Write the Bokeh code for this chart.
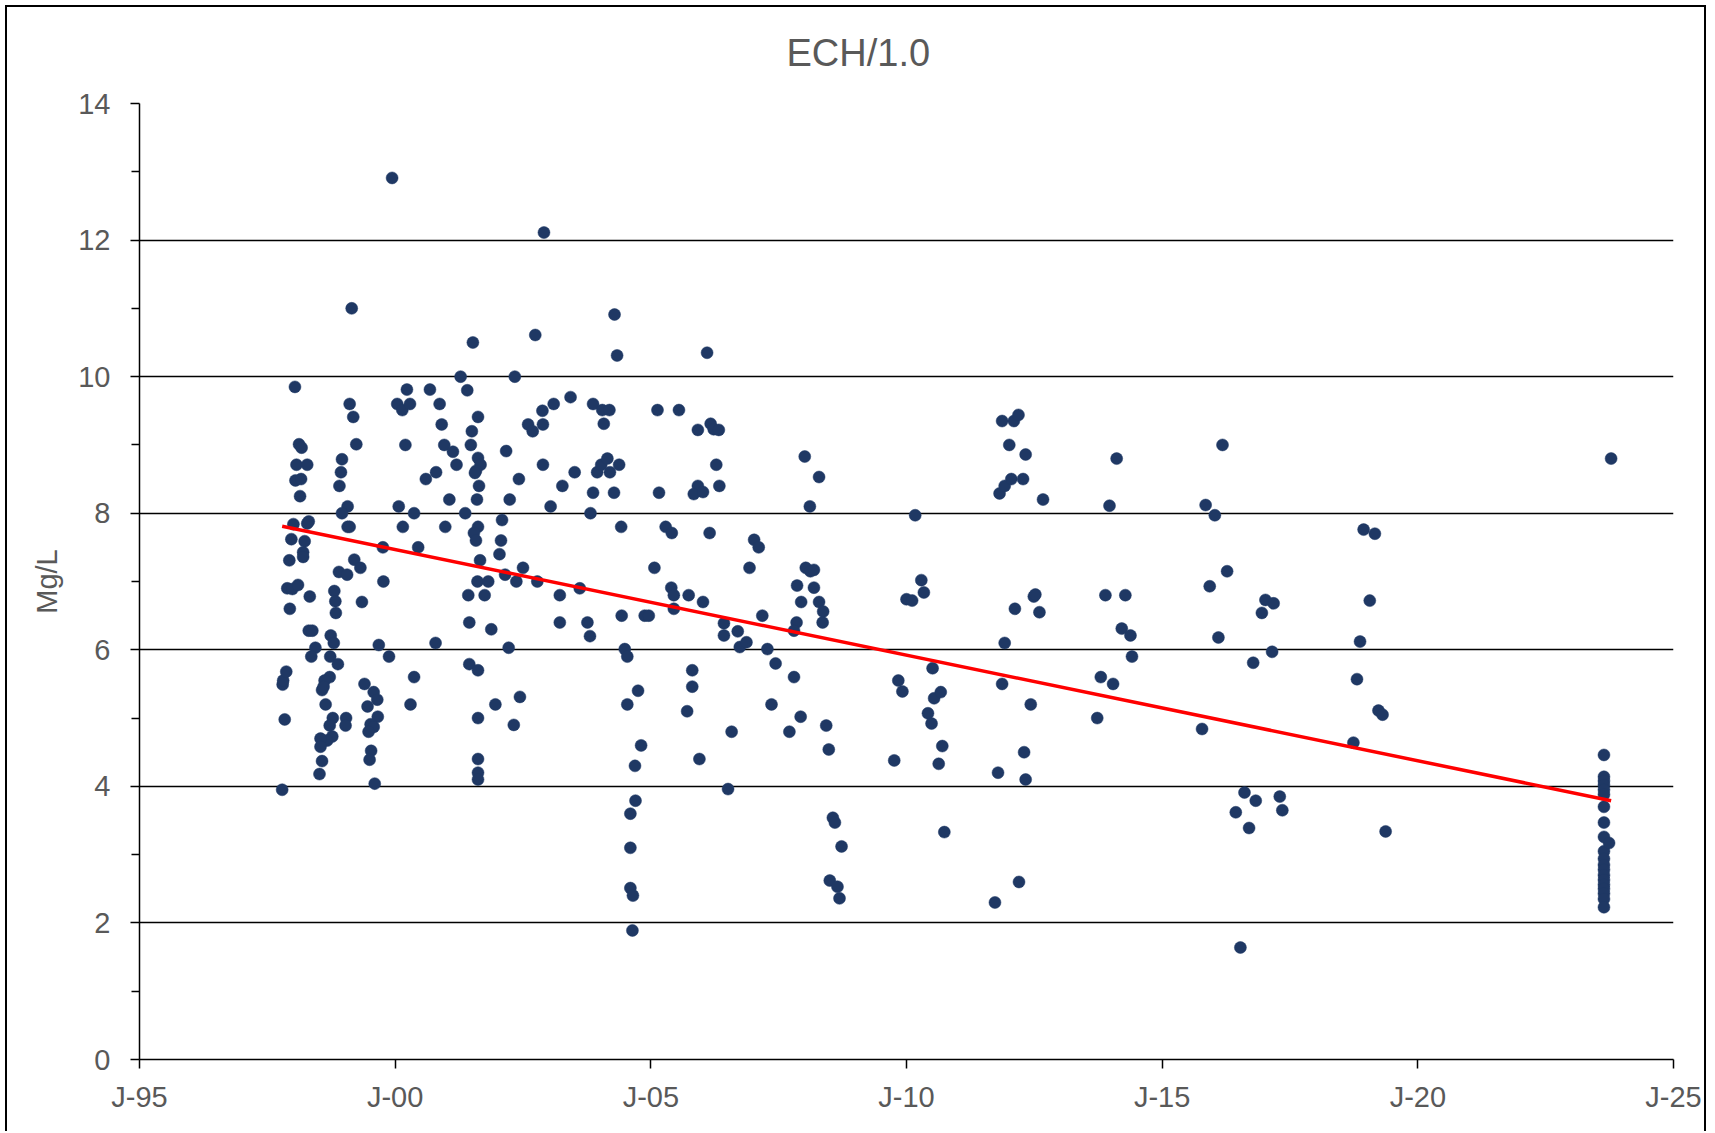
from bokeh.plotting import figure
from bokeh.models import FixedTicker, ColumnDataSource, Title
from bokeh.embed import file_html
from bokeh.resources import INLINE

# ---- data ----
sample_year = [
    1997.79, 1997.84, 1997.80, 1997.81, 1997.87, 1997.94, 1997.89, 1997.99, 1998.10, 1997.93,
    1997.97, 1998.01, 1998.04, 1998.12, 1998.17, 1998.07, 1998.28, 1998.05, 1998.16, 1998.14,
    1998.28, 1998.31, 1998.23, 1998.20, 1998.20, 1998.33, 1998.31, 1998.38, 1998.44, 1998.36,
    1998.73, 1998.88, 1998.72, 1998.62, 1998.57, 1998.60, 1998.64, 1998.78, 1998.72, 1998.77,
    1998.67, 1998.54, 1998.54, 1998.57, 1998.52, 1998.74, 1998.80, 1998.81, 1998.83, 1998.84,
    1998.90, 1998.96, 1998.94, 1998.91, 1999.07, 1998.96, 1999.06, 1999.07, 1999.11, 1999.04,
    1999.03, 1999.11, 1999.18, 1999.24, 1999.15, 1999.20, 1999.32, 1999.35, 1999.40, 1999.58,
    1999.65, 1999.46, 1999.66, 1999.52, 1999.58, 1999.48, 1999.53, 1999.50, 1999.60, 1999.68,
    1999.76, 1999.77, 1999.88, 1999.94, 2000.04, 2000.14, 2000.29, 2000.23, 2000.20, 2000.07,
    2000.37, 2000.15, 2000.45, 2000.37, 2000.30, 2000.68, 2000.87, 2000.91, 2000.96, 2001.13,
    2001.20, 2000.60, 2000.80, 2001.06, 2000.98, 2000.79, 2001.52, 2001.28, 2001.41, 2001.62,
    2001.50, 2001.48, 2001.62, 2001.67, 2001.58, 2001.56, 2001.64, 2001.60, 2001.37, 2001.62,
    2001.54, 2001.58, 2001.66, 2001.61, 2001.82, 2001.43, 2001.75, 2001.45, 2001.45, 2001.62,
    2001.62, 2001.62, 2001.62, 2001.62, 2001.88, 2001.96, 2002.09, 2002.07, 2002.04, 2002.17,
    2002.42, 2002.24, 2002.34, 2002.74, 2002.60, 2002.69, 2002.88, 2002.89, 2002.89, 2002.50,
    2002.15, 2002.37, 2002.78, 2002.22, 2002.44, 2002.32, 2002.91, 2003.04, 2003.10, 2003.27,
    2003.22, 2003.22, 2003.43, 2003.51, 2003.61, 2003.76, 2003.81, 2003.82, 2003.87, 2003.87,
    2003.95, 2004.03, 2004.15, 2004.20, 2004.38, 2004.28, 2004.05, 2004.19, 2004.08, 2004.29,
    2004.34, 2004.42, 2004.43, 2004.49, 2004.54, 2004.75, 2004.54, 2004.81, 2004.69, 2004.70,
    2004.60, 2004.60, 2004.60, 2004.65, 2004.64, 2004.88, 2004.96, 2005.07, 2005.13, 2005.16,
    2005.29, 2005.41, 2005.40, 2005.45, 2005.45, 2005.55, 2005.74, 2005.81, 2005.81, 2005.71,
    2005.92, 2005.92, 2005.84, 2006.02, 2005.95, 2006.02, 2006.10, 2006.15, 2006.17, 2006.23,
    2006.33, 2006.28, 2006.34, 2006.43, 2006.43, 2006.70, 2006.51, 2006.58, 2006.74, 2006.87,
    2006.93, 2007.02, 2007.11, 2007.18, 2007.28, 2007.36, 2007.44, 2007.71, 2007.80, 2007.85,
    2007.80, 2007.86, 2007.93, 2007.94, 2008.01, 2008.03, 2008.12, 2008.19, 2008.19, 2008.11,
    2008.29, 2008.29, 2008.37, 2008.36, 2008.43, 2008.48, 2008.56, 2008.60, 2008.73, 2008.50,
    2008.65, 2008.69, 2009.76, 2009.84, 2009.92, 2010.00, 2010.11, 2010.17, 2010.29, 2010.34,
    2010.42, 2010.49, 2010.51, 2010.54, 2010.67, 2010.63, 2010.70, 2010.74, 2011.73, 2011.79,
    2011.82, 2011.87, 2011.87, 2011.92, 2011.92, 2012.01, 2012.05, 2012.10, 2012.12, 2012.19,
    2012.20, 2012.28, 2012.30, 2012.33, 2012.33, 2012.43, 2012.49, 2012.52, 2012.60, 2012.67,
    2013.73, 2013.80, 2013.89, 2013.97, 2014.04, 2014.11, 2014.21, 2014.28, 2014.38, 2014.41,
    2015.78, 2015.85, 2015.93, 2016.03, 2016.10, 2016.18, 2016.27, 2016.44, 2016.53, 2016.61,
    2016.70, 2016.78, 2016.83, 2016.95, 2017.02, 2017.15, 2017.18, 2017.30, 2017.35, 2018.74,
    2018.81, 2018.87, 2018.94, 2019.06, 2019.16, 2019.23, 2019.31, 2019.37,
    2023.64, 2023.64, 2023.64, 2023.64, 2023.64, 2023.64, 2023.64, 2023.64, 2023.64, 2023.64,
    2023.64, 2023.64, 2023.64, 2023.64, 2023.64, 2023.64, 2023.64, 2023.64, 2023.64, 2023.64,
    2023.74, 2023.78,
]
mg_per_l = [
    3.95, 4.98, 5.49, 5.55, 5.68, 6.60, 6.90, 6.89, 6.95, 7.31,
    7.62, 7.84, 9.85, 9.01, 8.96, 8.71, 8.71, 8.48, 8.50, 8.25,
    7.85, 7.88, 7.59, 7.43, 7.36, 6.78, 6.28, 6.28, 6.03, 5.90,
    5.90, 5.79, 5.60, 5.55, 5.41, 5.46, 5.20, 5.00, 4.89, 4.73,
    4.67, 4.70, 4.58, 4.37, 4.18, 6.21, 6.10, 6.86, 6.71, 6.54,
    7.14, 8.79, 8.60, 8.40, 8.10, 8.00, 7.10, 7.80, 7.80, 5.00,
    4.89, 9.60, 9.41, 9.01, 11.00, 7.32, 7.20, 6.70, 5.50, 5.38,
    5.27, 5.17, 5.02, 4.91, 4.87, 4.80, 4.52, 4.39, 4.04, 6.07,
    7.50, 7.00, 5.90, 12.91, 9.60, 9.51, 9.60, 9.81, 9.00, 8.10,
    8.00, 7.80, 7.50, 5.60, 5.20, 9.81, 9.60, 9.30, 9.00, 8.90,
    8.71, 8.50, 8.60, 8.20, 7.80, 6.10, 10.50, 10.00, 9.80, 9.41,
    9.20, 9.00, 8.81, 8.71, 8.62, 8.59, 8.40, 8.20, 8.00, 7.80,
    7.71, 7.60, 7.31, 7.00, 7.00, 6.80, 6.80, 6.40, 5.79, 5.70,
    5.00, 4.40, 4.20, 4.10, 6.30, 5.20, 7.90, 7.60, 7.40, 8.91,
    8.50, 8.20, 10.00, 10.61, 9.30, 9.20, 9.50, 9.30, 8.71, 7.20,
    7.10, 7.00, 7.00, 6.03, 5.31, 4.90, 12.11, 8.10, 9.60, 8.40,
    6.80, 6.40, 9.70, 8.60, 6.90, 6.40, 6.20, 8.00, 9.60, 8.30,
    8.60, 8.71, 8.80, 8.60, 8.71, 8.30, 9.51, 9.51, 9.31, 10.91,
    10.31, 7.80, 6.50, 6.01, 5.90, 5.40, 5.20, 4.60, 4.30, 3.79,
    3.60, 3.10, 2.51, 2.40, 1.89, 6.50, 6.50, 7.20, 9.51, 8.30,
    7.80, 7.71, 6.91, 6.80, 6.60, 9.51, 6.80, 5.70, 5.46, 5.10,
    9.22, 8.40, 8.28, 8.31, 4.40, 6.70, 10.35, 7.71, 9.31, 9.23,
    9.22, 8.71, 8.40, 6.39, 6.21, 6.27, 3.96, 4.80, 6.04, 6.11,
    7.20, 7.61, 7.50, 6.50, 6.01, 5.20, 5.80, 4.80, 5.60, 6.40,
    6.28, 6.94, 5.02, 6.70, 8.83, 7.20, 7.15, 7.17, 6.91, 8.10,
    8.53, 6.70, 6.56, 6.40, 4.89, 4.54, 3.54, 3.47, 3.12, 2.62,
    2.53, 2.36, 4.38, 5.55, 5.39, 6.74, 6.72, 7.97, 7.02, 6.84,
    5.07, 4.92, 5.73, 5.29, 5.38, 4.33, 4.59, 3.33, 2.30, 4.20,
    8.29, 9.35, 5.50, 8.40, 6.10, 9.00, 8.50, 9.35, 6.60, 9.44,
    2.60, 8.50, 4.50, 8.86, 4.10, 5.20, 6.78, 6.81, 6.55, 8.20,
    5.00, 5.60, 6.80, 8.11, 5.50, 8.80, 6.31, 6.80, 6.21, 5.90,
    4.84, 8.12, 6.93, 7.97, 6.18, 9.00, 7.15, 3.62, 1.64, 3.91,
    3.39, 5.81, 3.79, 6.54, 6.73, 5.97, 6.68, 3.85, 3.65, 4.64,
    5.57, 6.12, 7.76, 6.72, 7.70, 5.11, 5.05, 3.34,
    4.46, 4.14, 4.08, 4.02, 3.95, 3.88, 3.70, 3.47, 3.26, 3.05,
    2.94, 2.85, 2.78, 2.70, 2.63, 2.56, 2.50, 2.43, 2.35, 2.23,
    3.17, 8.80,
]
trend_year = [1997.79, 2023.78]
trend_value = [7.81, 3.79]

x_tick_years = [1995, 2000, 2005, 2010, 2015, 2020, 2025]
x_tick_labels = ["J-95", "J-00", "J-05", "J-10", "J-15", "J-20", "J-25"]
y_major = [0, 2, 4, 6, 8, 10, 12, 14]
y_minor = [1, 3, 5, 7, 9, 11, 13]
chart_title = "ECH/1.0"

FONT = "Liberation Sans"
GREY = "#595959"

p = figure(
    width=1701, height=1126,
    output_backend="svg", toolbar_location=None,
    x_range=(1995, 2025), y_range=(0, 14),
    min_border_left=132, min_border_right=35,
    min_border_top=96, min_border_bottom=74,
    title=chart_title,
)
p.margin = (5, 5, 0, 5)
p.styles = {
    "border-left": "2px solid #000000",
    "border-top": "2px solid #000000",
    "border-right": "2px solid #000000",
}

# white (invisible) spacer panel between the plot frame and the title
spacer = Title(text=".", text_font_size="10px", text_color="white", standoff=18)
p.add_layout(spacer, "above")

# title: centred over the whole chart (left-aligned text shifted by offset)
p.title.align = "left"
p.title.offset = 647
p.title.vertical_align = "top"
p.title.standoff = 0
p.title.text_font = FONT
p.title.text_font_style = "normal"
p.title.text_font_size = "38px"
p.title.text_color = GREY

p.outline_line_color = None
p.background_fill_color = "white"
p.border_fill_color = "white"

p.xgrid.visible = False
p.ygrid.grid_line_color = "black"
p.ygrid.grid_line_width = 1.5
p.ygrid.ticker = FixedTicker(ticks=y_major)

xax = p.xaxis[0]
xax.ticker = FixedTicker(ticks=x_tick_years)
xax.major_label_overrides = {yr: lab for yr, lab in zip(x_tick_years, x_tick_labels)}
xax.axis_line_color = "black"
xax.axis_line_width = 1.5
xax.major_tick_line_color = "black"
xax.major_tick_line_width = 1.5
xax.major_tick_in = 0
xax.major_tick_out = 9
xax.minor_tick_line_color = None
xax.major_label_text_font = FONT
xax.major_label_text_font_size = "29px"
xax.major_label_text_color = GREY
xax.major_label_standoff = 12

yax = p.yaxis[0]
yax.ticker = FixedTicker(ticks=y_major, minor_ticks=y_minor)
yax.axis_line_color = "black"
yax.axis_line_width = 1.5
yax.major_tick_line_color = "black"
yax.major_tick_line_width = 1.5
yax.major_tick_in = 0
yax.major_tick_out = 9
yax.minor_tick_line_color = "black"
yax.minor_tick_line_width = 1.5
yax.minor_tick_in = 0
yax.minor_tick_out = 8
yax.major_label_text_font = FONT
yax.major_label_text_font_size = "29px"
yax.major_label_text_color = GREY
yax.major_label_standoff = 20
yax.axis_label = "Mg/L"
yax.axis_label_text_font = FONT
yax.axis_label_text_font_size = "29px"
yax.axis_label_text_font_style = "normal"
yax.axis_label_text_color = GREY
yax.axis_label_standoff = 12

src = ColumnDataSource(data=dict(year=sample_year, value=mg_per_l))
p.scatter("year", "value", source=src, size=12, fill_color="#1f3864",
          line_color="#1f3864", line_width=0.5)
p.line(trend_year, trend_value, line_color="#ff0000", line_width=3.5)

open("out.html", "w").write(file_html(p, INLINE))
